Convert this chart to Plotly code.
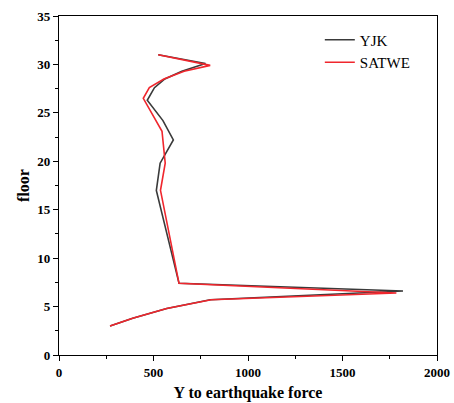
import plotly.graph_objects as go

# YJK series
yjk_floor = [3, 3.8, 4.8, 5.7, 6.6, 7.4, 17, 19.8, 22.2, 24.2, 26.3, 27.6, 28.5, 29.3, 30.1, 31]
yjk_force = [270, 390, 570, 800, 1820, 635, 515, 535, 605, 550, 467, 505, 560, 650, 775, 525]

# SATWE series
satwe_floor = [3, 3.8, 4.8, 5.7, 6.4, 7.4, 17, 19.8, 23.1, 26.5, 27.6, 28.5, 29.3, 29.9, 31]
satwe_force = [270, 390, 570, 805, 1785, 635, 537, 562, 545, 446, 478, 555, 662, 800, 525]

x_ticks = [0, 500, 1000, 1500, 2000]
y_ticks = [0, 5, 10, 15, 20, 25, 30, 35]

font_family = "Liberation Serif, Times New Roman, serif"

fig = go.Figure()
fig.add_trace(go.Scatter(x=yjk_force, y=yjk_floor, mode="lines", name="YJK",
                         line=dict(color="#3a3a3a", width=1.6)))
fig.add_trace(go.Scatter(x=satwe_force, y=satwe_floor, mode="lines", name="SATWE",
                         line=dict(color="#f0262d", width=1.6)))

fig.update_layout(
    width=454, height=403,
    margin=dict(l=59, r=17, t=16, b=48, autoexpand=False),
    paper_bgcolor="white", plot_bgcolor="white",
    font=dict(family=font_family, color="black"),
    showlegend=True,
    legend=dict(x=0.69, y=0.978, xanchor="left", yanchor="top",
                font=dict(family=font_family, size=15, color="black"),
                bgcolor="rgba(0,0,0,0)", tracegroupgap=0, itemwidth=30),
    xaxis=dict(range=[0, 2000], tickvals=x_ticks, ticktext=[f"<b>{v}</b>" for v in x_ticks],
               automargin=False,
               showline=True, linecolor="black", linewidth=1.2, mirror=True,
               ticks="outside", ticklen=5, tickwidth=1, tickcolor="black",
               minor=dict(ticks="outside", ticklen=3, dtick=250, tick0=0, tickcolor="black"),
               showgrid=False, zeroline=False,
               tickfont=dict(size=13, family=font_family, color="black"),
               title=dict(text="<b>Y to earthquake force</b>", font=dict(size=16, family=font_family, color="black"), standoff=8)),
    yaxis=dict(range=[0, 35], tickvals=y_ticks, ticktext=[f"<b>{v}</b>" for v in y_ticks],
               automargin=False,
               showline=True, linecolor="black", linewidth=1.2, mirror=True,
               ticks="outside", ticklen=5, tickwidth=1, tickcolor="black",
               minor=dict(ticks="outside", ticklen=3, dtick=2.5, tick0=0, tickcolor="black"),
               showgrid=False, zeroline=False,
               tickfont=dict(size=13, family=font_family, color="black"),
               title=dict(text="<b>floor</b>", font=dict(size=16, family=font_family, color="black"), standoff=3)),
)

fig.write_html("out.html",
               config={"displayModeBar": False},
               post_script="document.body.style.margin='0';document.body.style.overflow='hidden';")
